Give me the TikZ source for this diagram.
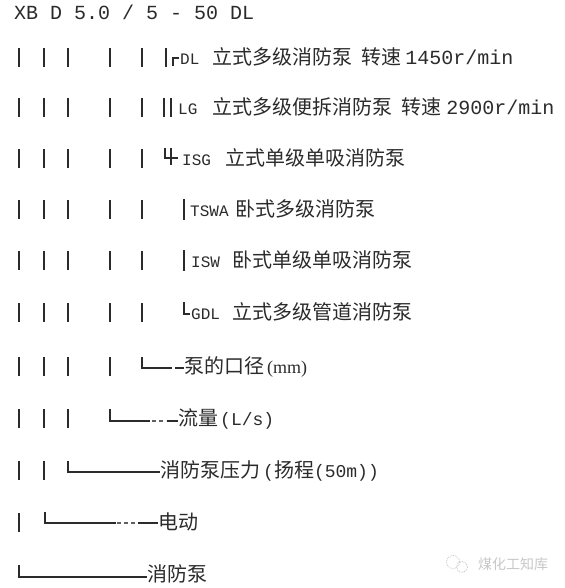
\documentclass[tikz,border=0pt]{standalone}
\usepackage{fontspec}
\setmainfont{Liberation Mono}
\newfontfamily\cjfont{Noto Sans CJK SC}
\newfontfamily\monofont{Liberation Mono}
\newfontfamily\serfont{Liberation Serif}
\newcommand\myCJ[1]{{\cjfont\fontsize{20}{20}\selectfont #1}}
\newcommand\myLab[1]{{\monofont\fontsize{16}{16}\selectfont #1}}
\newcommand\myMono[1]{{\monofont\fontsize{20}{20}\selectfont #1}}
\newcommand\myMid[1]{{\monofont\fontsize{18}{18}\selectfont #1}}
\newcommand\mySer[1]{{\serfont\fontsize{18}{18}\selectfont #1}}
\definecolor{ink}{HTML}{2B2B2B}
\definecolor{wm}{HTML}{C8C8C8}
\begin{document}
\begin{tikzpicture}[x=1pt,y=-1pt,
  txt/.style={anchor=base west, inner sep=0pt, text=ink},
  bar/.style={draw=ink, line width=1.8pt},
  ln/.style={draw=ink, line width=1.3pt, line join=miter},
  dsh/.style={draw=ink!75, line width=1.1pt, dash pattern=on 4pt off 3pt}]
\fill[white] (0,0) rectangle (564,588);
\useasboundingbox (0,0) rectangle (564,588);

% row 1
\node[txt] (t1) at (14,20) {\myMono{XB D 5.0 / 5 - 50 DL}};

% vertical bars
\foreach \y in {57,107,158,209,260,312}
  \foreach \x in {19,44,68,110,142}
    \draw[bar] (\x,\y-9) -- (\x,\y+10);
\foreach \x in {19,44,68,110} \draw[bar] (\x,357) -- (\x,376);
\foreach \x in {19,44,68} \draw[bar] (\x,409) -- (\x,428);
\foreach \x in {19,44} \draw[bar] (\x,461) -- (\x,480);
\draw[bar] (19,513) -- (19,532);

% row 2
\draw[bar] (166,48) -- (166,67);
\draw[ln] (173,66) -- (173,58) -- (179,58);
\node[txt] (t2) at (180,64.5) {\myLab{DL}\hspace{13pt}\myCJ{立式多级消防泵}\hspace{9pt}\myCJ{转速}\hspace{4pt}\myMono{1450r/min}};

% row 3
\draw[bar] (164,98) -- (164,117);
\draw[bar] (171,98) -- (171,117);
\node[txt] (t3) at (178,114.5) {\myLab{LG}\hspace{15pt}\myCJ{立式多级便拆消防泵}\hspace{9pt}\myCJ{转速}\hspace{5pt}\myMono{2900r/min}};

% row 4
\draw[ln] (165,148) -- (165,158) -- (178,158);
\draw[ln] (171,148) -- (171,165);
\node[txt] (t4) at (182,165.5) {\myLab{ISG}\hspace{14pt}\myCJ{立式单级单吸消防泵}};

% row 5
\draw[bar] (184,199) -- (184,220);
\node[txt] (t5) at (190,216.5) {\myLab{TSWA}\hspace{7pt}\myCJ{卧式多级消防泵}};

% row 6
\draw[bar] (184,250) -- (184,271);
\node[txt] (t6) at (191,267.5) {\myLab{ISW}\hspace{12pt}\myCJ{卧式单级单吸消防泵}};

% row 7
\draw[ln] (184,302) -- (184,314) -- (190,314);
\node[txt] (t7) at (191,319.5) {\myLab{GDL}\hspace{12pt}\myCJ{立式多级管道消防泵}};

% row 8
\node[txt] (t8) at (184,373.5) {\myCJ{泵的口径}\hspace{3pt}\mySer{(mm)}};
\coordinate (c8) at (142,357);
\draw[ln] (c8) -- (142,368) -- (172,368);
\draw[ln] (175,368) -- (t8.west |- 0,368);

% row 9
\node[txt] (t9) at (178,425.5) {\myCJ{流量}\hspace{2pt}\myMid{(L/s)}};
\coordinate (c9) at (110,409);
\draw[ln] (c9) -- (110,421) -- (150,421);
\draw[dsh] (152,421) -- (166,421);
\draw[ln] (167,421) -- (t9.west |- 0,421);

% row 10
\node[txt] (t10) at (160,477.5) {\myCJ{消防泵压力}\hspace{3pt}\myMid{(}\myCJ{扬程}\myMid{(50m))}};
\coordinate (c10) at (68,461);
\draw[ln] (c10) -- (68,472) -- (t10.west |- 0,472);

% row 11
\node[txt] (t11) at (158,529.5) {\myCJ{电动}};
\coordinate (c11) at (45,512);
\draw[ln] (c11) -- (45,523) -- (116,523);
\draw[dsh] (117,523) -- (137,523);
\draw[ln] (138,523) -- (t11.west |- 0,523);

% row 12
\node[txt] (t12) at (147,581.5) {\myCJ{消防泵}};
\coordinate (c12) at (19,565);
\draw[ln] (c12) -- (19,577) -- (t12.west |- 0,577);

% watermark
\draw[wm, line width=0.8pt, densely dotted] (453,562) circle (6.5);
\draw[wm, line width=0.8pt, densely dotted] (462,567) circle (5.5);
\node[anchor=base west, inner sep=0pt, text=wm] (wmk) at (478,569) {\cjfont\fontsize{14}{14}\selectfont 煤化工知库};
\end{tikzpicture}
\end{document}
